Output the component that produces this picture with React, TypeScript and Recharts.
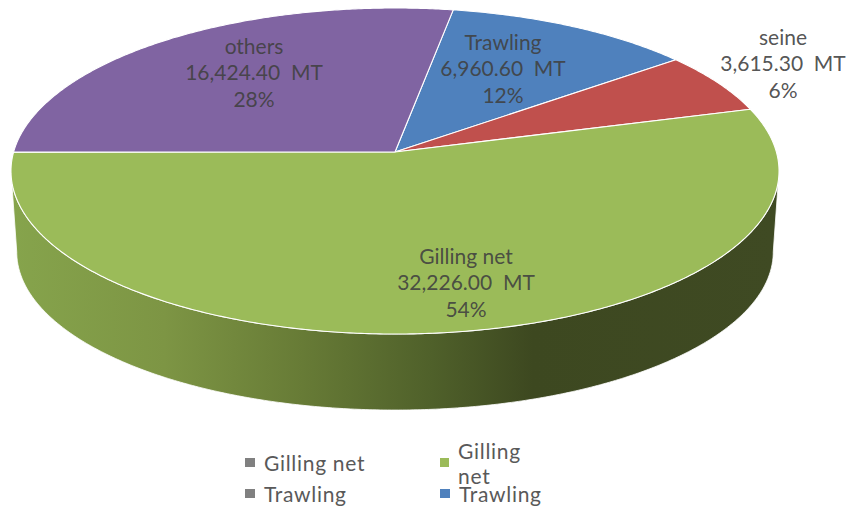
import React from 'react';
import { PieChart, Pie, Cell, Legend } from 'recharts';

const categories = ['Trawling', 'seine', 'Gilling net', 'others'];
const tonnes = [6960.6, 3615.3, 32226.0, 16424.4];
const sliceColors = ['#4f81bd', '#c0504d', '#9bbb59', '#8064a2'];

// hand placed data labels: centre x and first baseline y, same order as categories
const labelSpots = [
  [503, 50],
  [783, 45],
  [466, 264],
  [254, 54],
];

const data = categories.map((name, i) => ({ name, value: tonnes[i] }));

const W = 855;
const H = 506;
const CX = 395;
const CY = 152;
const RADIUS = 381.4;

// fake 3D: tilt the circle with a small perspective so the apex sits above the ellipse centre
const SQUASH = 160.8 / RADIUS;
const K = 0.1166;
const RAD = Math.PI / 180;

const project = (cx: number, cy: number, r: number, deg: number, scaleX = 1, scaleY = 1, drop = 0) => {
  const c = Math.cos(deg * RAD);
  const s = Math.sin(deg * RAD);
  const w = 1 + K * s;
  return [cx + (r * scaleX * c) / w, cy + drop - (r * SQUASH * scaleY * s) / w];
};

const rimPoints = (cx: number, cy: number, r: number, from: number, to: number, scaleX = 1, scaleY = 1, drop = 0) => {
  const steps = Math.max(2, Math.ceil(Math.abs(from - to) * 2));
  const pts: string[] = [];
  for (let i = 0; i <= steps; i++) {
    const [x, y] = project(cx, cy, r, from + ((to - from) * i) / steps, scaleX, scaleY, drop);
    pts.push(`${x.toFixed(2)} ${y.toFixed(2)}`);
  }
  return pts;
};

const TopSlice = (props: any) => {
  const { cx, cy, outerRadius, startAngle, endAngle, fill } = props;
  const rim = rimPoints(cx, cy, outerRadius, startAngle, endAngle);
  return <path d={`M${cx} ${cy}L${rim.join('L')}Z`} fill={fill} stroke="#ffffff" strokeWidth={1.1} strokeLinejoin="round" />;
};

// only the part of a slice between the two side tangents shows a wall
const TANGENT = Math.asin(K) / RAD;
const WallSlice = (props: any) => {
  const { cx, cy, outerRadius, startAngle, endAngle } = props;
  const hi = Math.min(Math.max(startAngle, endAngle), -TANGENT);
  const lo = Math.max(Math.min(startAngle, endAngle), -180 + TANGENT);
  if (hi <= lo) return <g />;
  const upper = rimPoints(cx, cy, outerRadius, hi, lo);
  const lower = rimPoints(cx, cy, outerRadius, lo, hi, 0.985, 0.97, 81.5);
  return <path d={`M${upper.join('L')}L${lower.join('L')}Z`} fill="url(#wallShade)" stroke="#ffffff" strokeWidth={0.8} />;
};

const renderLabel = (props: any) => {
  const { index, name, value, percent } = props;
  const [x, y] = labelSpots[index];
  const amount = value.toLocaleString('en-US', { minimumFractionDigits: 2, maximumFractionDigits: 2 });
  return (
    <text x={x} y={y} textAnchor="middle" fontSize={21} fill="#404040" fillOpacity={0.9} style={{ fontFamily: 'Lato' }}>
      <tspan x={x}>{name}</tspan>
      <tspan x={x} dy={26}>{`${amount}\u00a0\u00a0MT`}</tspan>
      <tspan x={x} dy={27}>{`${Math.round(percent * 100)}%`}</tspan>
    </text>
  );
};

const renderLegend = (props: any) => {
  const { payload } = props;
  return (
    <div style={{ display: 'grid', gridTemplateColumns: '195px 110px', rowGap: 2, fontFamily: 'Lato', fontSize: 21, letterSpacing: 0.7, color: '#595959' }}>
      {payload.map((item: any) => (
        <div key={item.value} style={{ display: 'flex', alignItems: 'center', height: 29 }}>
          <span style={{ width: 10, height: 9, background: item.color, marginRight: 9 }} />
          {item.value}
        </div>
      ))}
    </div>
  );
};

export default function App() {
  return (
    <div style={{ position: 'absolute', left: 0, top: 0, width: W, height: H, background: '#ffffff' }}>
      <PieChart width={W} height={H} margin={{ top: 0, right: 0, bottom: 0, left: 0 }}>
        <defs>
          <linearGradient id="wallShade" gradientUnits="userSpaceOnUse" x1={11} y1={0} x2={778} y2={0}>
            <stop offset="0" stopColor="#86a44c" />
            <stop offset="0.2" stopColor="#7d9544" />
            <stop offset="0.38" stopColor="#677b36" />
            <stop offset="0.55" stopColor="#4f602a" />
            <stop offset="0.68" stopColor="#3d4820" />
            <stop offset="1" stopColor="#3f4a23" />
          </linearGradient>
        </defs>
        <Pie
          data={data}
          dataKey="value"
          nameKey="name"
          cx={CX}
          cy={CY}
          startAngle={80.2}
          endAngle={-279.8}
          innerRadius={0}
          outerRadius={RADIUS}
          legendType="none"
          shape={WallSlice}
          isAnimationActive={false}
        />
        <Pie
          data={data}
          dataKey="value"
          nameKey="name"
          cx={CX}
          cy={CY}
          startAngle={80.2}
          endAngle={-279.8}
          innerRadius={0}
          outerRadius={RADIUS}
          shape={TopSlice}
          label={renderLabel}
          labelLine={false}
          isAnimationActive={false}
        >
          {data.map((d, i) => (
            <Cell key={d.name} fill={sliceColors[i]} />
          ))}
        </Pie>
        <Legend content={renderLegend} wrapperStyle={{ left: 245, top: 448, width: 310, bottom: 'auto' }} />
      </PieChart>
    </div>
  );
}
